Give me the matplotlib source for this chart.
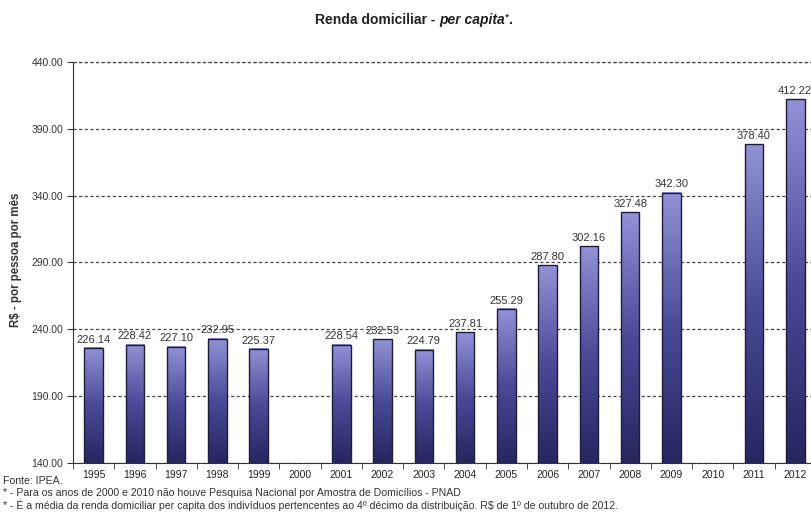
import numpy as np
import matplotlib.pyplot as plt
from matplotlib.colors import LinearSegmentedColormap

anos = ['1995', '1996', '1997', '1998', '1999', '2000', '2001', '2002', '2003',
        '2004', '2005', '2006', '2007', '2008', '2009', '2010', '2011', '2012']
# sem PNAD em 2000 e 2010
renda = [226.14, 228.42, 227.10, 232.95, 225.37, None, 228.54, 232.53, 224.79,
         237.81, 255.29, 287.80, 302.16, 327.48, 342.30, None, 378.40, 412.22]

y_min, y_max = 140, 440
plt.rcParams['font.family'] = ['Liberation Sans', 'DejaVu Sans']

fig = plt.figure(figsize=(8.11, 5.14), dpi=100)
ax = fig.add_axes([0.090, 0.0992, 0.916, 0.7802])

grad = LinearSegmentedColormap.from_list('barra', ['#262660', '#4a4a98', '#9292d6'])
g = np.linspace(0, 1, 256).reshape(-1, 1)
largura = 0.45

x = np.arange(len(anos))
for i, v in enumerate(renda):
    if v is None:
        continue
    x0, x1 = i - largura / 2, i + largura / 2
    ax.imshow(g, cmap=grad, origin='lower', aspect='auto',
              extent=(x0, x1, y_min, v), zorder=2, interpolation='bilinear')
    ax.bar(i, v - y_min, bottom=y_min, width=largura, facecolor='none',
           edgecolor='#1c1c3c', linewidth=1.0, zorder=3)
    ax.text(i, v + 2.5, f'{v:.2f}', ha='center', va='bottom', fontsize=8,
            color='#333333', zorder=4)

ax.set_xlim(-0.5, len(anos) - 0.5)
ax.set_ylim(y_min, y_max)
ax.set_yticks(np.arange(y_min, y_max + 1, 50))
ax.set_yticklabels([f'{t:.2f}' for t in np.arange(y_min, y_max + 1, 50)],
                   fontsize=7.5, color='#333333')
ax.set_xticks(x)
ax.set_xticklabels(anos, fontsize=7.5, color='#222222')
ax.set_xticks(np.arange(-0.5, len(anos), 1), minor=True)
ax.tick_params(axis='x', which='major', length=0, pad=5)
ax.tick_params(axis='x', which='minor', length=4, direction='out', color='#333333')
ax.tick_params(axis='y', length=4, direction='out', color='#333333', pad=3)

ax.yaxis.grid(True, linestyle=(0, (2.5, 2)), color='#444444', linewidth=0.9, zorder=1)
ax.set_axisbelow(True)
ax.spines['top'].set_visible(False)
ax.spines['right'].set_visible(False)
ax.spines['left'].set_color('#333333')
ax.spines['bottom'].set_color('#333333')
# linha tracejada do topo (440)
ax.axhline(y_max, linestyle=(0, (2.5, 2)), color='#444444', linewidth=0.9,
           clip_on=False, zorder=1)

ax.set_ylabel('R$ - por pessoa por mês', fontsize=8.3, fontweight='bold',
              color='#333333')
ax.yaxis.set_label_coords(-0.068, 0.506)

# título com trecho em itálico
partes = [('Renda domiciliar - ', 'normal', 10, 0), ('per capita', 'italic', 10, 0),
          ('*', 'italic', 6.5, 4), ('.', 'normal', 10, 0)]
fig.canvas.draw()
r = fig.canvas.get_renderer()
pos_x = 315
for txt, estilo, tam, dy in partes:
    t = fig.text(pos_x / 811, 1 - (24 - dy) / 514, txt, fontsize=tam,
                 fontweight='bold', style=estilo, color='#222222',
                 ha='left', va='baseline')
    pos_x += t.get_window_extent(r).width

notas = ['Fonte: IPEA.',
         '* - Para os anos de 2000 e 2010 não houve Pesquisa Nacional por Amostra de Domicílios - PNAD',
         '* - É a média da renda domiciliar per capita dos indivíduos pertencentes ao 4º décimo da distribuição. R$ de 1º de outubro de 2012.']
for k, nota in enumerate(notas):
    fig.text(3 / 811, 1 - (484 + 12.5 * k) / 514, nota, fontsize=7.6,
             color='#333333', ha='left', va='baseline')

fig.savefig('out.png', dpi=100)
